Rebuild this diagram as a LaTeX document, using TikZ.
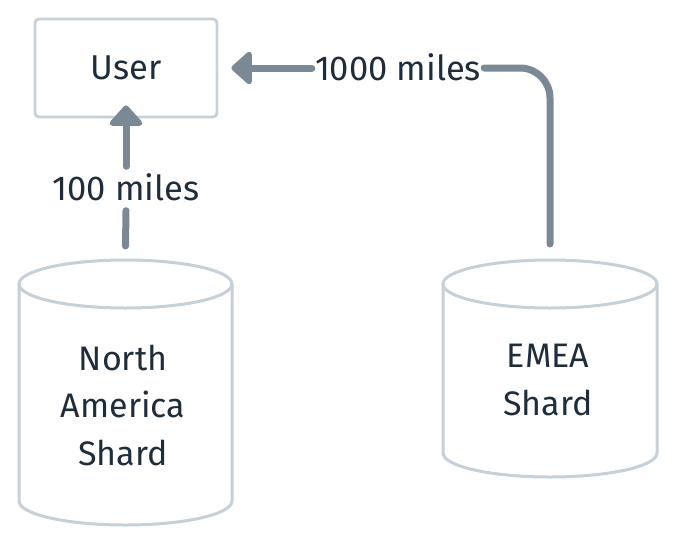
\documentclass[tikz,border=0pt]{standalone}
\usepackage{fontspec}
\setmainfont{Fira Sans}
\usetikzlibrary{arrows.meta}
\definecolor{arrowc}{HTML}{7B8896}
\definecolor{textc}{HTML}{1F2D3B}
\definecolor{borderc}{HTML}{C6D0D9}
\tikzset{
  conn/.style={draw=arrowc, line width=7pt, line cap=round, line join=round},
  tipped/.style={conn, -{Triangle[width=38pt,length=22pt,round]}},
  lbl/.style={text=textc, font=\fontsize{34.5}{48}\selectfont, inner xsep=3pt, inner ysep=10pt, text height=24pt, text depth=0pt},
  box/.style={draw=borderc, line width=2.8pt, rounded corners=4pt, minimum width=182pt, minimum height=98pt, text=textc, font=\fontsize{34.5}{48}\selectfont},
  cyl/.style={draw=borderc, line width=3pt},
  cyltext/.style={text=textc, align=center, font=\fontsize{34}{47.5}\selectfont}
}
\begin{document}
\begin{tikzpicture}[x=1pt,y=-1pt]
\useasboundingbox (0,0) rectangle (676,544);
% User box
\node[box] (user) at (126,68) {User};
% North America cylinder
\draw[cyl] (125.5,284) ellipse [x radius=106.5, y radius=24];
\draw[cyl] (19,284) -- (19,501) arc[start angle=180, end angle=0, x radius=106.5, y radius=24] -- (232,284);
\node[cyltext] (na) at (123,405) {North\\America\\Shard};
\coordinate (natop) at (125.5,246);
% EMEA cylinder
\draw[cyl] (550,284) ellipse [x radius=107, y radius=24];
\draw[cyl] (443,284) -- (443,453) arc[start angle=180, end angle=0, x radius=107, y radius=24] -- (657,284);
\node[cyltext] (emea) at (548,380) {EMEA\\Shard};
\coordinate (emeatop) at (550,244);
% labels
\node[lbl] (l1) at (126,188.5) {100 miles};
\node[lbl] (l2) at (398,68) {1000 miles};
% connectors
\draw[conn] (natop) -- (l1.south);
\draw[tipped] (l1.north) -- ([yshift=13pt]user.south);
\draw[conn, rounded corners=30pt] (emeatop) |- (l2.east);
\draw[tipped] (l2.west) -- ([xshift=13pt]user.east);
\end{tikzpicture}
\end{document}
